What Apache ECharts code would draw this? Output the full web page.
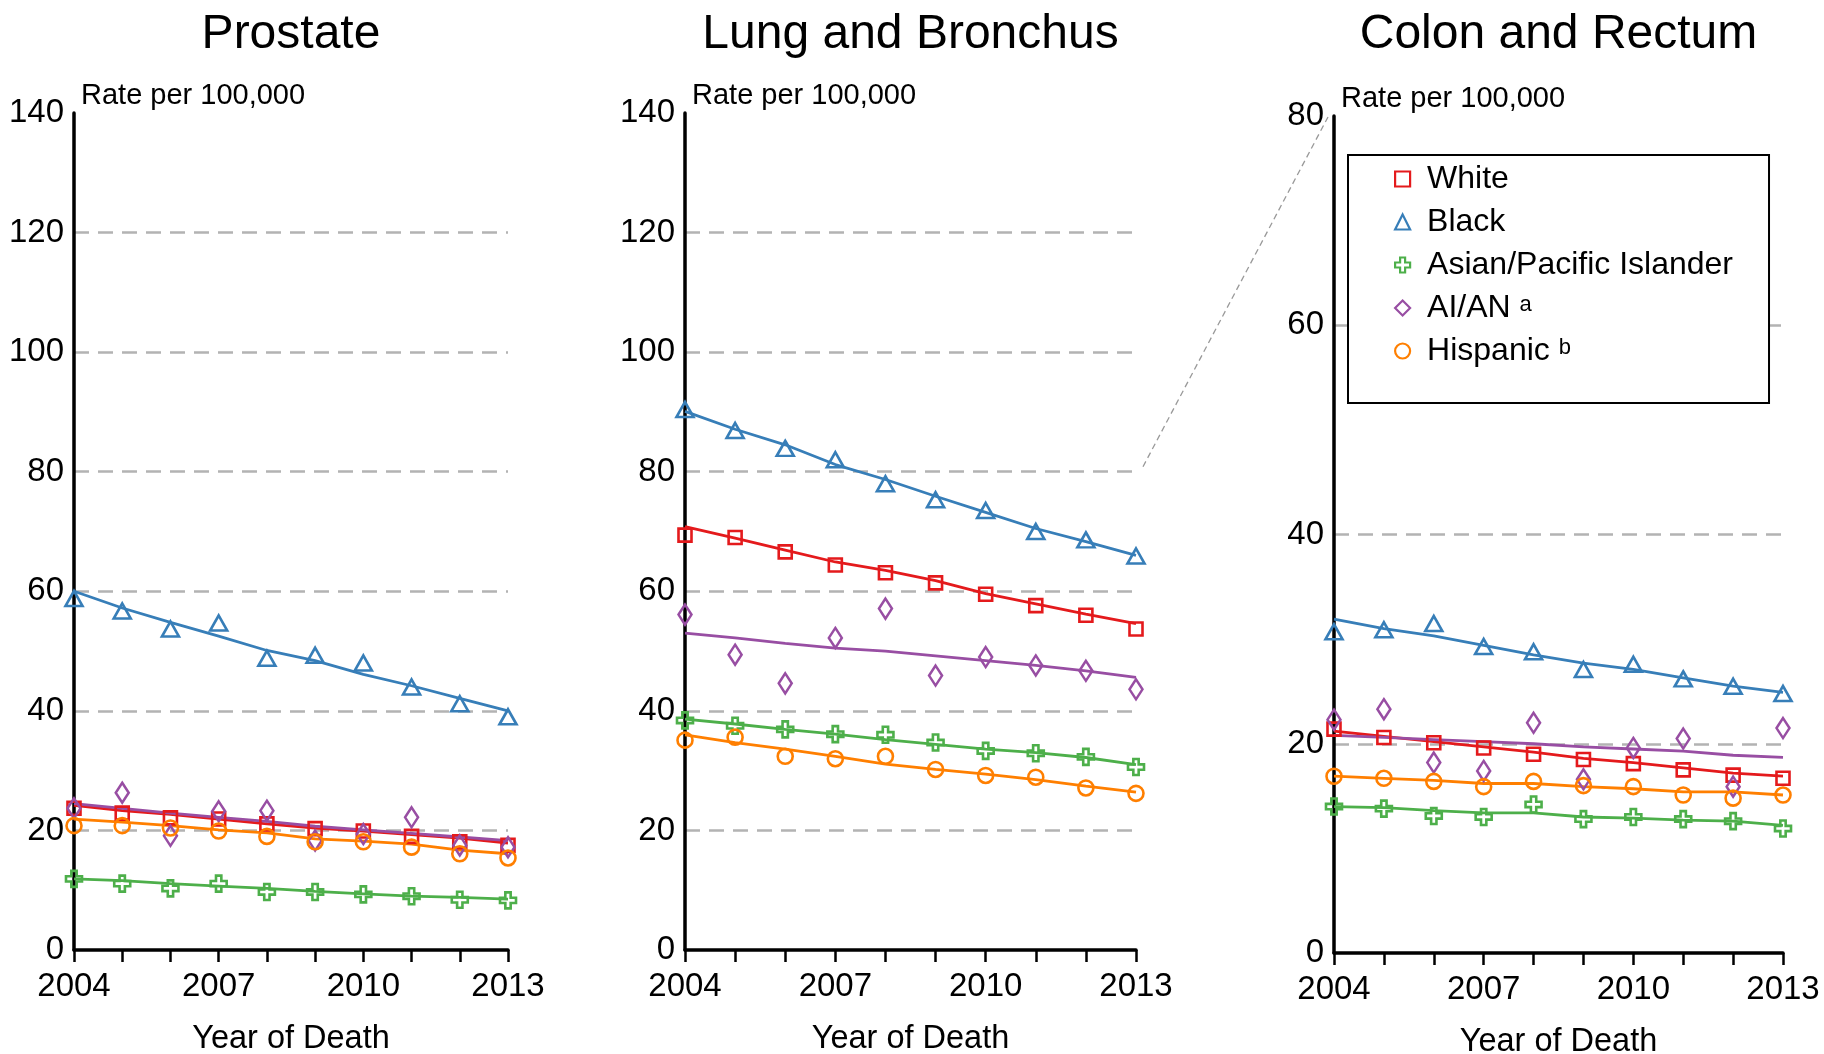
<!DOCTYPE html>
<html>
<head>
<meta charset="utf-8">
<script src="https://cdn.jsdelivr.net/npm/echarts@6/dist/echarts.min.js"></script>
<style>
html,body{margin:0;padding:0;background:#fff;}
#c{width:1824px;height:1054px;}
</style>
</head>
<body>
<div id="c"></div>
<script>
// ---------- data ----------
const years = [2004, 2005, 2006, 2007, 2008, 2009, 2010, 2011, 2012, 2013];
const yearLabels = [2004, 2007, 2010, 2013];
const panelTitles = ['Prostate', 'Lung and Bronchus', 'Colon and Rectum'];
const groupNames = ['White', 'Black', 'Asian/Pacific Islander', 'AI/AN', 'Hispanic'];

// Prostate
const prostateWhite = [23.7, 22.9, 22.1, 21.9, 21.1, 20.3, 19.9, 19.0, 18.1, 17.5];
const prostateWhiteFit = [24.2, 23.3, 22.7, 21.9, 21.1, 20.4, 19.9, 19.3, 18.7, 17.9];
const prostateBlack = [58.8, 56.7, 53.7, 54.7, 48.8, 49.3, 48.0, 44.0, 41.2, 39.0];
const prostateBlackFit = [60.0, 57.2, 54.8, 52.5, 50.1, 48.4, 46.1, 44.2, 42.1, 40.0];
const prostateAsian = [11.9, 11.1, 10.3, 11.1, 9.7, 9.7, 9.3, 9.0, 8.4, 8.3];
const prostateAsianFit = [11.9, 11.6, 11.1, 10.7, 10.3, 9.8, 9.4, 9.0, 8.8, 8.5];
const prostateAian = [23.7, 26.3, 19.1, 23.2, 23.3, 18.3, 19.4, 22.2, 17.5, 17.2];
const prostateAianFit = [24.5, 23.7, 22.9, 22.2, 21.5, 20.7, 20.1, 19.5, 18.9, 18.3];
const prostateHisp = [20.8, 20.8, 20.4, 19.9, 19.0, 18.1, 18.1, 17.2, 16.1, 15.4];
const prostateHispFit = [21.9, 21.4, 20.8, 20.1, 19.6, 18.6, 18.2, 17.7, 16.7, 16.1];

// Lung and Bronchus
const lungWhite = [69.4, 69.0, 66.6, 64.4, 63.1, 61.4, 59.5, 57.6, 56.0, 53.7];
const lungWhiteFit = [70.8, 68.9, 66.9, 64.9, 63.5, 61.8, 59.6, 57.9, 56.2, 54.6];
const lungBlack = [90.4, 86.9, 83.9, 82.0, 78.0, 75.3, 73.5, 70.0, 68.6, 65.9];
const lungBlackFit = [90.1, 87.1, 84.5, 81.2, 78.7, 75.9, 73.2, 70.5, 68.3, 66.0];
const lungAsian = [38.4, 37.5, 36.9, 36.1, 36.0, 34.7, 33.3, 32.9, 32.3, 30.6];
const lungAsianFit = [38.6, 37.8, 36.9, 36.1, 35.2, 34.4, 33.6, 33.0, 32.2, 31.0];
const lungAian = [56.1, 49.4, 44.6, 52.2, 57.1, 45.9, 49.0, 47.6, 46.7, 43.6];
const lungAianFit = [53.0, 52.2, 51.3, 50.5, 50.0, 49.2, 48.4, 47.6, 46.7, 45.6];
const lungHisp = [35.1, 35.6, 32.4, 32.0, 32.4, 30.2, 29.2, 28.9, 27.1, 26.2];
const lungHispFit = [36.0, 34.7, 33.6, 32.4, 31.1, 30.2, 29.4, 28.5, 27.4, 26.4];

// Colon and Rectum
const colonWhite = [21.4, 20.6, 20.1, 19.6, 19.0, 18.5, 18.1, 17.5, 17.0, 16.7];
const colonWhiteFit = [21.2, 20.7, 20.2, 19.7, 19.2, 18.6, 18.2, 17.7, 17.2, 16.9];
const colonBlack = [30.7, 30.9, 31.5, 29.3, 28.8, 27.1, 27.6, 26.2, 25.5, 24.8];
const colonBlackFit = [31.9, 31.0, 30.3, 29.4, 28.5, 27.7, 27.1, 26.3, 25.5, 24.9];
const colonAsian = [14.0, 13.8, 13.1, 13.0, 14.2, 12.8, 13.0, 12.8, 12.6, 11.9];
const colonAsianFit = [14.0, 13.9, 13.6, 13.4, 13.4, 13.0, 12.9, 12.7, 12.6, 12.2];
const colonAian = [22.3, 23.3, 18.2, 17.4, 22.0, 16.6, 19.6, 20.5, 15.9, 21.5];
const colonAianFit = [20.8, 20.6, 20.4, 20.2, 20.0, 19.7, 19.5, 19.3, 18.9, 18.7];
const colonHisp = [16.9, 16.7, 16.4, 15.9, 16.4, 16.0, 15.9, 15.1, 14.8, 15.1];
const colonHispFit = [16.9, 16.7, 16.5, 16.2, 16.2, 15.9, 15.7, 15.4, 15.4, 15.1];

const yMax = [140, 140, 80];
const yInterval = 20;

// ---------- build ----------
const FONT = "'Liberation Sans', Arial, sans-serif";
const colors = ['#e41a1c', '#377eb8', '#4daf4a', '#984ea3', '#ff7f00'];
const crossPath = 'path://M6,0H12V6H18V12H12V18H6V12H0V6H6Z';
const symbols = ['rect', 'triangle', crossPath, 'diamond', 'circle'];
const symbolSizes = [13, [17, 15], 16, [13, 20], 15];

const points = [
  [prostateWhite, prostateBlack, prostateAsian, prostateAian, prostateHisp],
  [lungWhite, lungBlack, lungAsian, lungAian, lungHisp],
  [colonWhite, colonBlack, colonAsian, colonAian, colonHisp]
];
const fits = [
  [prostateWhiteFit, prostateBlackFit, prostateAsianFit, prostateAianFit, prostateHispFit],
  [lungWhiteFit, lungBlackFit, lungAsianFit, lungAianFit, lungHispFit],
  [colonWhiteFit, colonBlackFit, colonAsianFit, colonAianFit, colonHispFit]
];

const grids = [
  {left: 74, top: 113, width: 434, height: 837, containLabel: false, outerBoundsMode: 'none'},
  {left: 685, top: 113, width: 451, height: 837, containLabel: false, outerBoundsMode: 'none'},
  {left: 1334, top: 116, width: 449, height: 837, containLabel: false, outerBoundsMode: 'none'}
];

const titles = grids.map((g, i) => ({
  text: panelTitles[i],
  left: g.left + g.width / 2,
  top: 11,
  textAlign: 'center',
  padding: 0,
  textStyle: {fontFamily: FONT, fontSize: 48, fontWeight: 'normal', color: '#000'}
}));

const xAxes = grids.map((g, i) => ({
  type: 'value', gridIndex: i, min: 2004, max: 2013, interval: 1,
  axisLine: {show: true, onZero: false, lineStyle: {color: '#000', width: 3.5}},
  axisTick: {show: true, length: 12, lineStyle: {color: '#000', width: 2.5}},
  axisLabel: {
    fontFamily: FONT, fontSize: 33, color: '#000', margin: 20,
    formatter: v => (yearLabels.indexOf(v) >= 0 ? String(v) : '')
  },
  splitLine: {show: false},
  name: 'Year of Death', nameLocation: 'middle', nameGap: 73,
  nameTextStyle: {fontFamily: FONT, fontSize: 32.5, color: '#000'}
}));

const yAxes = grids.map((g, i) => ({
  type: 'value', gridIndex: i, min: 0, max: yMax[i], interval: yInterval,
  axisLine: {show: true, onZero: false, lineStyle: {color: '#000', width: 3.5}},
  axisTick: {show: false},
  axisLabel: {fontFamily: FONT, fontSize: 33, color: '#000', margin: 10, padding: [6, 0, 0, 0]},
  splitLine: {show: true, showMinLine: false, showMaxLine: false,
    lineStyle: {color: '#b3b3b3', width: 2.5, type: [15, 9]}},
  name: 'Rate per 100,000', nameLocation: 'end', nameGap: 17,
  nameTextStyle: {fontFamily: FONT, fontSize: 29, color: '#000', align: 'left',
    verticalAlign: 'middle', padding: [0, 0, 0, 7]}
}));

const series = [];
for (let p = 0; p < 3; p++) {
  for (let g = 0; g < 5; g++) {
    series.push({
      type: 'line', name: groupNames[g] + ' trend', xAxisIndex: p, yAxisIndex: p,
      data: years.map((y, k) => [y, fits[p][g][k]]),
      symbol: 'none', smooth: false, z: 2, silent: true,
      lineStyle: {color: colors[g], width: 2.8}
    });
  }
  for (let g = 0; g < 5; g++) {
    series.push({
      type: 'scatter', name: groupNames[g], xAxisIndex: p, yAxisIndex: p,
      data: years.map((y, k) => [y, points[p][g][k]]),
      symbol: symbols[g], symbolSize: symbolSizes[g], z: 3,
      itemStyle: {color: 'rgba(0,0,0,0)', borderColor: colors[g], borderWidth: 2.6, opacity: 1}
    });
  }
}

const option = {
  backgroundColor: '#fff',
  animation: false,
  title: titles,
  grid: grids,
  xAxis: xAxes,
  yAxis: yAxes,
  legend: {
    orient: 'vertical', left: 1348, top: 155,
    padding: [4, 36, 32, 46],
    borderColor: '#000', borderWidth: 2, backgroundColor: '#fff',
    itemWidth: 15, itemHeight: 15, itemGap: 3,
    data: groupNames,
    selectedMode: false,
    itemStyle: {color: 'rgba(0,0,0,0)', borderWidth: 2.2},
    formatter: function (name) {
      if (name === 'AI/AN') return 'AI/AN {sup|a}';
      if (name === 'Hispanic') return 'Hispanic {sup|b}';
      return name;
    },
    textStyle: {
      fontFamily: FONT, fontSize: 32, color: '#000', lineHeight: 40, padding: [0, 0, 0, 12],
      rich: {sup: {fontFamily: FONT, fontSize: 22, color: '#000', lineHeight: 40, padding: [0, 0, 6, 0]}}
    },
    z: 10
  },
  series: series
};

const chart = echarts.init(document.getElementById('c'), null, {renderer: 'canvas'});
chart.setOption(option);

// zoom connector between Lung 80 gridline and Colon axis top
const a = chart.convertToPixel({gridIndex: 1}, [2013, 80]);
const b = chart.convertToPixel({gridIndex: 2}, [2004, 80]);
chart.setOption({
  graphic: [{
    type: 'line', silent: true, z: 1,
    shape: {x1: a[0] + 7, y1: a[1] - 5, x2: b[0] - 6, y2: b[1] + 1},
    style: {stroke: '#999', lineWidth: 1.3, lineDash: [6, 4]}
  }]
});
</script>
</body>
</html>
